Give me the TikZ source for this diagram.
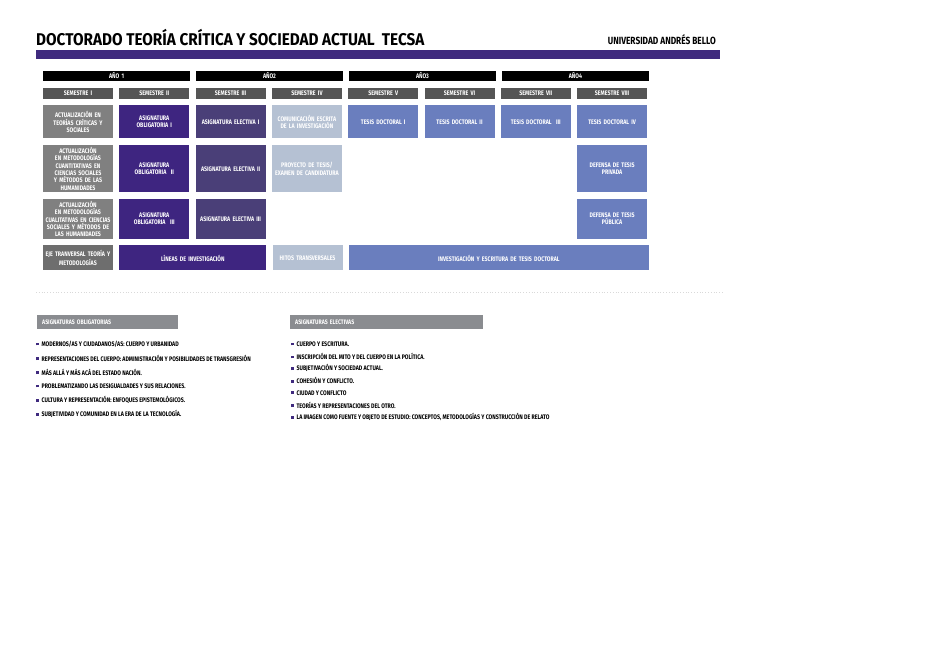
\documentclass[tikz,border=0pt]{standalone}
\usepackage{fontspec}
\setmainfont{Fira Sans}[FakeStretch=0.8]
\newfontfamily\titlefont{Fira Sans}[FakeStretch=0.9]
\usetikzlibrary{positioning}
\definecolor{unabpurple}{HTML}{3F2A7E}
\definecolor{obligcol}{HTML}{3E2580}
\definecolor{electcol}{HTML}{4A3F78}
\definecolor{lightcol}{HTML}{B5C1D3}
\definecolor{tesiscol}{HTML}{6A7EBE}
\definecolor{actcol}{HTML}{808080}
\definecolor{ejecol}{HTML}{6E6E6E}
\definecolor{semcol}{HTML}{555555}
\definecolor{headcol}{HTML}{8A8C90}
\newcommand{\sqbullet}{\textcolor{unabpurple}{\raisebox{0.9pt}{\rule{2.8pt}{2.8pt}}}\hspace{2.6pt}}
\tikzset{
    gridbox/.style={inner xsep=2pt, inner ysep=0pt, outer sep=0pt, text=white, align=center,
        font=\bfseries\fontsize{6.6}{7.3}\selectfont}, % every box of the plan
    yearbar/.style={gridbox, fill=black, minimum width=147pt, text width=143pt, minimum height=10pt, anchor=north west},
    sembar/.style={gridbox, fill=semcol, minimum width=70pt, text width=66pt, minimum height=11pt},
    cell/.style={gridbox, minimum width=70pt, text width=66pt},
    actual/.style={cell, fill=actcol},
    oblig/.style={cell, fill=obligcol},
    elect/.style={cell, fill=electcol},
    hito/.style={cell, fill=lightcol},
    tesis/.style={cell, fill=tesiscol},
    listhead/.style={anchor=north west, fill=headcol, text=white, inner xsep=5pt, inner ysep=0pt,
        minimum height=14.5pt, align=left, font=\bfseries\fontsize{6.5}{7}\selectfont},
    listitem/.style={anchor=west, inner sep=0pt, font=\bfseries\fontsize{6.6}{7}\selectfont},
}
\begin{document}
\begin{tikzpicture}[x=1pt, y=-1pt]
    \useasboundingbox[fill=white] (0,0) rectangle (935,652);

    % title and band
    \node[anchor=base west, inner sep=0pt, font=\titlefont\bfseries\fontsize{17}{17}\selectfont] (title) at (36,46)
        {DOCTORADO TEORÍA CRÍTICA Y SOCIEDAD ACTUAL \ TECSA};
    \node[anchor=base east, inner sep=0pt, font=\bfseries\fontsize{10.4}{11}\selectfont] (unab) at (716,44.5)
        {UNIVERSIDAD ANDRÉS BELLO};
    \fill[unabpurple] (36,50) rectangle (720,59.3);

    % years
    \node[yearbar] (y1) at (43,71) {AÑO 1};
    \node[yearbar] (y2) at (196,71) {AÑO2};
    \node[yearbar] (y3) at (349,71) {AÑO3};
    \node[yearbar] (y4) at (502,71) {AÑO4};

    % semesters
    \node[sembar, anchor=north west] (s1) at (43,88) {SEMESTRE I};
    \node[sembar] (s2) [right=6.3pt of s1] {SEMESTRE II};
    \node[sembar] (s3) [right=6.3pt of s2] {SEMESTRE III};
    \node[sembar] (s4) [right=6.3pt of s3] {SEMESTRE IV};
    \node[sembar] (s5) [right=6.3pt of s4] {SEMESTRE V};
    \node[sembar] (s6) [right=6.3pt of s5] {SEMESTRE VI};
    \node[sembar] (s7) [right=6.3pt of s6] {SEMESTRE VII};
    \node[sembar] (s8) [right=6.3pt of s7] {SEMESTRE VIII};

    % first row
    \node[actual, minimum height=33pt] (a1) [below=6.5pt of s1] {ACTUALIZACIÓN EN\\TEORÍAS CRÍTICAS Y\\SOCIALES};
    \node[oblig, minimum height=33pt] (o1) [below=6.5pt of s2] {ASIGNATURA\\OBLIGATORIA I};
    \node[elect, minimum height=33pt] (e1) [below=6.5pt of s3] {ASIGNATURA ELECTIVA I};
    \node[hito, minimum height=33pt] (com) [below=6.5pt of s4] {COMUNICACIÓN ESCRITA\\DE LA INVESTIGACIÓN};
    \node[tesis, minimum height=33pt] (t1) [below=6.5pt of s5] {TESIS DOCTORAL I};
    \node[tesis, minimum height=33pt] (t2) [below=6.5pt of s6] {TESIS DOCTORAL II};
    \node[tesis, minimum height=33pt] (t3) [below=6.5pt of s7] {TESIS DOCTORAL \ III};
    \node[tesis, minimum height=33pt] (t4) [below=6.5pt of s8] {TESIS DOCTORAL IV};

    % second row
    \node[actual, minimum height=47.5pt] (a2) [below=6.5pt of a1] {ACTUALIZACIÓN\\EN METODOLOGÍAS\\CUANTITATIVAS EN\\CIENCIAS SOCIALES\\Y MÉTODOS DE LAS\\HUMANIDADES};
    \node[oblig, minimum height=47.5pt] (o2) [below=6.5pt of o1] {ASIGNATURA\\OBLIGATORIA \ II};
    \node[elect, minimum height=47.5pt] (e2) [below=6.5pt of e1] {ASIGNATURA ELECTIVA II};
    \node[hito, minimum height=47.5pt] (proy) [below=6.5pt of com] {PROYECTO DE TESIS/\\EXAMEN DE CANDIDATURA};
    \node[tesis, minimum height=47.5pt] (priv) [below=6.5pt of t4] {DEFENSA DE TESIS\\PRIVADA};

    % third row
    \node[actual, minimum height=40pt] (a3) [below=6.5pt of a2] {ACTUALIZACIÓN\\EN METODOLOGÍAS\\CUALITATIVAS EN CIENCIAS\\SOCIALES Y MÉTODOS DE\\LAS HUMANIDADES};
    \node[oblig, minimum height=40pt] (o3) [below=6.5pt of o2] {ASIGNATURA\\OBLIGATORIA \ III};
    \node[elect, minimum height=40pt] (e3) [below=6.5pt of e2] {ASIGNATURA ELECTIVA III};
    \node[tesis, minimum height=40pt] (pub) [below=6.5pt of priv] {DEFENSA DE TESIS\\PÚBLICA};

    % transversal row
    \node[cell, fill=ejecol, minimum height=25pt] (eje) [below=6.5pt of a3] {EJE TRANVERSAL TEORÍA Y\\METODOLOGÍAS};
    \node[oblig, minimum height=25pt, minimum width=147pt, text width=143pt] (lin) [right=6.3pt of eje] {LÍNEAS DE INVESTIGACIÓN};
    \node[hito, minimum height=25pt] (hitos) [right=6.3pt of lin] {HITOS TRANSVERSALES};
    \node[tesis, minimum height=25pt, minimum width=300pt, text width=296pt] (inv) [right=6.3pt of hitos] {INVESTIGACIÓN Y ESCRITURA DE TESIS DOCTORAL};

    \draw[black!15, dotted, line width=0.8pt] (36,292) -- (724,292);

    % lists
    \node[listhead, minimum width=141pt, text width=131pt] (hob) at (37,314.5) {ASIGNATURAS OBLIGATORIAS};
    \node[listitem] (ob1) at (36,344) {\sqbullet MODERNOS/AS Y CIUDADANOS/AS: CUERPO Y URBANIDAD};
    \node[listitem] (ob2) at (36,358) {\sqbullet REPRESENTACIONES DEL CUERPO: ADMINISTRACIÓN Y POSIBILIDADES DE TRANSGRESIÓN};
    \node[listitem] (ob3) at (36,372) {\sqbullet MÁS ALLÁ Y MÁS ACÁ DEL ESTADO NACIÓN.};
    \node[listitem] (ob4) at (36,386) {\sqbullet PROBLEMATIZANDO LAS DESIGUALDADES Y SUS RELACIONES.};
    \node[listitem] (ob5) at (36,400) {\sqbullet CULTURA Y REPRESENTACIÓN: ENFOQUES EPISTEMOLÓGICOS.};
    \node[listitem] (ob6) at (36,414) {\sqbullet SUBJETIVIDAD Y COMUNIDAD EN LA ERA DE LA TECNOLOGÍA.};

    \node[listhead, minimum width=193pt, text width=183pt] (hel) at (290,314.5) {ASIGNATURAS ELECTIVAS};
    \node[listitem] (el1) at (291,344) {\sqbullet CUERPO Y ESCRITURA.};
    \node[listitem] (el2) at (291,356.2) {\sqbullet INSCRIPCIÓN DEL MITO Y DEL CUERPO EN LA POLÍTICA.};
    \node[listitem] (el3) at (291,368.4) {\sqbullet SUBJETIVACIÓN Y SOCIEDAD ACTUAL.};
    \node[listitem] (el4) at (291,380.6) {\sqbullet COHESIÓN Y CONFLICTO.};
    \node[listitem] (el5) at (291,392.8) {\sqbullet CIUDAD Y CONFLICTO};
    \node[listitem] (el6) at (291,405) {\sqbullet TEORÍAS Y REPRESENTACIONES DEL OTRO.};
    \node[listitem] (el7) at (291,417.2) {\sqbullet LA IMAGEN COMO FUENTE Y OBJETO DE ESTUDIO: CONCEPTOS, METODOLOGÍAS Y CONSTRUCCIÓN DE RELATO};
\end{tikzpicture}
\end{document}
